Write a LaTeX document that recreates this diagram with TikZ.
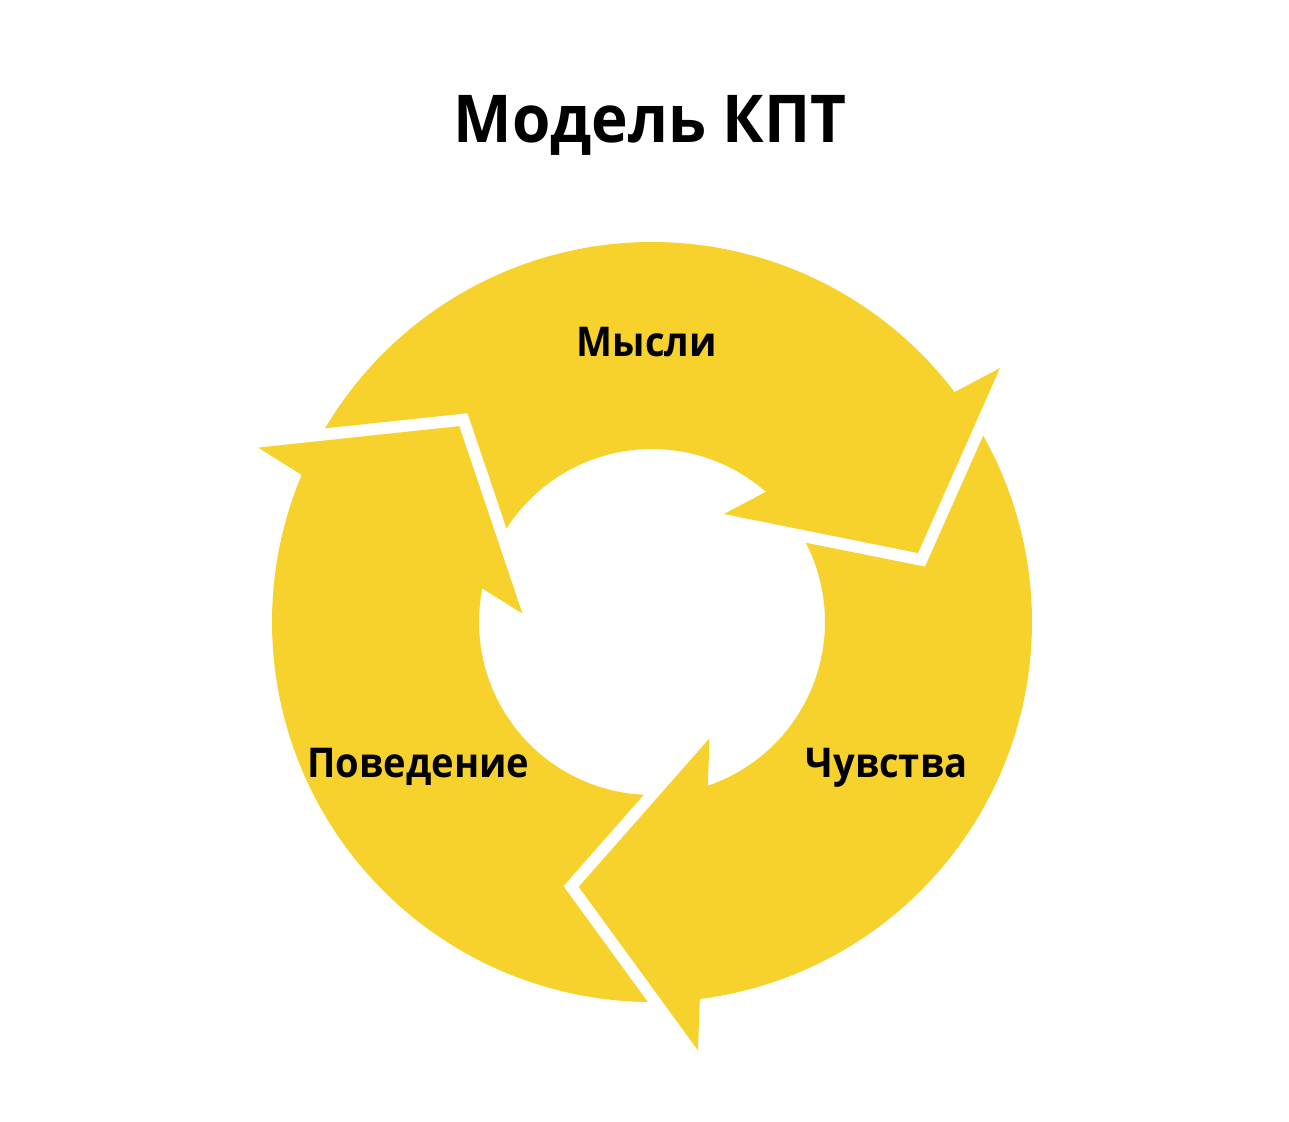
\documentclass[tikz,border=0pt]{standalone}
\usepackage{fontspec}
\newfontfamily\kpttitlefont{Open Sans Bold}[FakeStretch=0.94]
\newfontfamily\kptlabelfont{Open Sans Bold}[FakeStretch=0.93]
\definecolor{kptyellow}{HTML}{F8D22C}
\begin{document}
\begin{tikzpicture}[x=1pt,y=1pt,
  arrowfill/.style={fill=kptyellow},
  ttl/.style={font=\kpttitlefont\fontsize{66}{80}\selectfont, text=black, anchor=base, inner sep=0pt},
  lbl/.style={font=\kptlabelfont\fontsize{41}{50}\selectfont, text=black, anchor=base, inner sep=0pt}]
\useasboundingbox[fill=white] (0,0) rectangle (1289,1121);
\coordinate (C) at (652,499);
\begin{scope}[shift={(C)}]
\foreach \a in {0,-120,120}{
  \fill[arrowfill, rotate=\a]
    (149.36:380) arc[start angle=149.36, end angle=37.23, radius=380pt]
    -- (36.12:430.8) -- (14.54:274.8) -- (56.31:129.8)
    -- (48.8:173) arc[start angle=48.8, end angle=147.27, radius=173pt]
    -- (131.45:278.6) -- cycle;
}
\end{scope}
\node[ttl] (title) at (650,978) {Модель КПТ};
\node[lbl] (thoughts) at (647,764) {Мысли};
\node[lbl] (feelings) at (886.5,343) {Чувства};
\node[lbl] (behavior) at (418.5,343) {Поведение};
\end{tikzpicture}
\end{document}
